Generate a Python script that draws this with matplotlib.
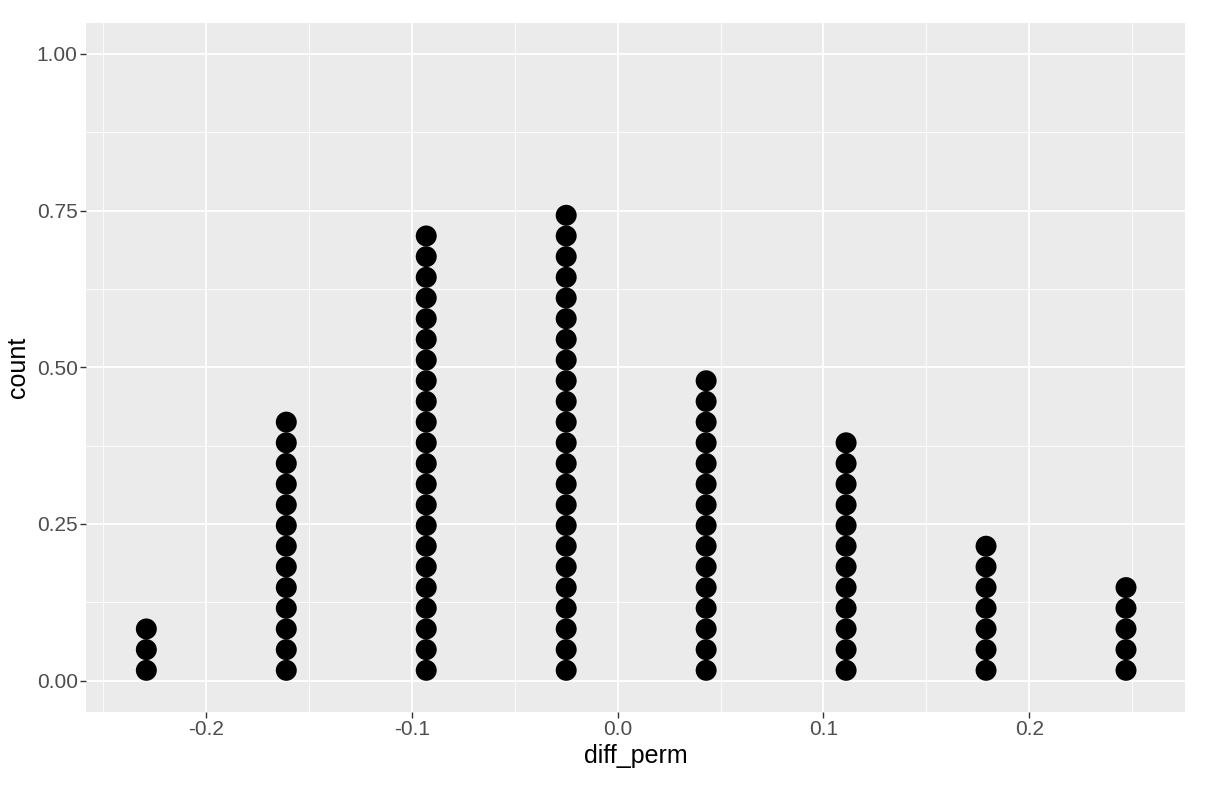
import numpy as np
import matplotlib
matplotlib.use("Agg")
import matplotlib.pyplot as plt

plt.rcParams["font.family"] = ["Liberation Sans", "DejaVu Sans"]

# dotplot bins (centre of each stack) and number of dots per stack
diff_bins = [-0.229, -0.161, -0.093, -0.025, 0.043, 0.111, 0.179, 0.247]
bin_counts = [3, 13, 22, 23, 15, 12, 7, 5]

x_ticks = [-0.2, -0.1, 0.0, 0.1, 0.2]
x_labels = ["-0.2", "-0.1", "0.0", "0.1", "0.2"]
y_ticks = [0.0, 0.25, 0.5, 0.75, 1.0]
y_labels = ["0.00", "0.25", "0.50", "0.75", "1.00"]

DOT_STEP = 0.033  # stacking step in y units (one dot diameter)

fig = plt.figure(figsize=(12.1, 8), dpi=100)
ax = fig.add_axes([0.0711, 0.11, 0.9083, 0.8618])
ax.set_facecolor("#EBEBEB")

xs, ys = [], []
for x, n in zip(diff_bins, bin_counts):
    for i in range(n):
        xs.append(x)
        ys.append((i + 0.5) * DOT_STEP)
ax.scatter(xs, ys, s=228, color="black", edgecolors="none", zorder=3)

ax.set_xlim(-0.2583, 0.2757)
ax.set_ylim(-0.05, 1.05)

ax.set_xticks(x_ticks)
ax.set_xticklabels(x_labels)
ax.set_yticks(y_ticks)
ax.set_yticklabels(y_labels)
ax.set_xticks([-0.25, -0.15, -0.05, 0.05, 0.15, 0.25], minor=True)
ax.set_yticks([0.125, 0.375, 0.625, 0.875], minor=True)

ax.grid(which="major", color="white", lw=1.3, zorder=0)
ax.grid(which="minor", color="white", lw=0.6, zorder=0)
ax.set_axisbelow(True)
for s in ax.spines.values():
    s.set_visible(False)

ax.tick_params(which="major", length=4, width=1.0, color="#333333",
               labelcolor="#4D4D4D", labelsize=15, pad=2)
ax.tick_params(which="minor", length=0)

ax.set_xlabel("diff_perm", fontsize=18, color="black", labelpad=3)
ax.set_ylabel("count", fontsize=18, color="black", labelpad=5)

fig.savefig("out.png", dpi=100, facecolor="white")
